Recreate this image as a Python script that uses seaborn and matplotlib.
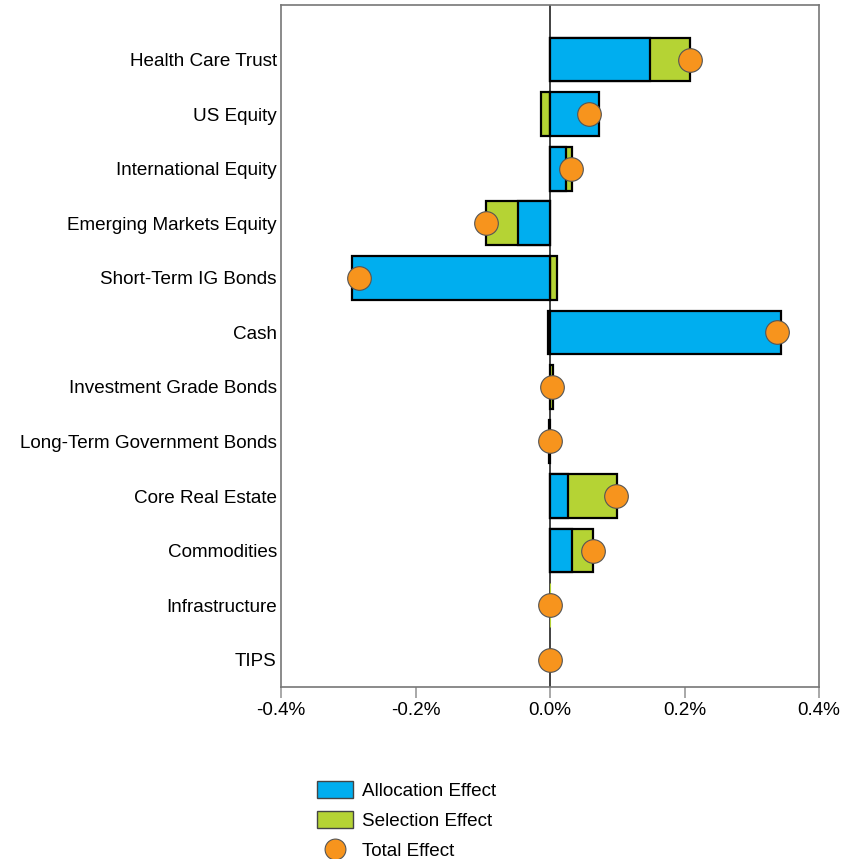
import numpy as np
import pandas as pd
import matplotlib
matplotlib.use('Agg')
import matplotlib.pyplot as plt
import seaborn as sns
from matplotlib.patches import Patch
from matplotlib.lines import Line2D

# attribution effects, in %
categories = ['Health Care Trust', 'US Equity', 'International Equity',
              'Emerging Markets Equity', 'Short-Term IG Bonds', 'Cash',
              'Investment Grade Bonds', 'Long-Term Government Bonds',
              'Core Real Estate', 'Commodities', 'Infrastructure', 'TIPS']
allocation = [0.149, 0.073, 0.024, -0.048, -0.294, 0.343, 0.0, 0.0, 0.027, 0.032, 0.0, 0.0]
selection = [0.059, -0.014, 0.008, -0.047, 0.011, -0.0035, 0.004, -0.0015, 0.073, 0.032, -0.0003, 0.0]
total = [0.208, 0.058, 0.031, -0.095, -0.284, 0.338, 0.0035, -0.0005, 0.098, 0.0635, -0.0005, 0.0]
xticks = [-0.4, -0.2, 0.0, 0.2, 0.4]

blue = '#00AEEF'
green = '#B5D334'
orange = '#F7941D'

df = pd.DataFrame({'cat': categories, 'alloc': allocation, 'sel': selection, 'total': total})
# where the selection segment ends when stacked on the same side as allocation
same_side = np.sign(df['sel']) == np.sign(df['alloc'])
df['sel_end'] = np.where(same_side, df['alloc'] + df['sel'], df['sel'])

plt.rcParams['font.family'] = ['Liberation Sans', 'DejaVu Sans']
fig = plt.figure(figsize=(8.6, 8.59), dpi=100)
ax = fig.add_axes([281 / 860, 1 - 687 / 859, 538 / 860, 682 / 859])

ax.axvline(0, color='#333333', lw=1.3, zorder=0.5)

# green drawn first to the stacked end, blue on top
sns.barplot(data=df, x='sel_end', y='cat', orient='h', color=green, width=0.8,
            edgecolor='black', linewidth=1.6, saturation=1, ax=ax, zorder=2)
sns.barplot(data=df, x='alloc', y='cat', orient='h', color=blue, width=0.8,
            edgecolor='black', linewidth=1.6, saturation=1, ax=ax, zorder=3)
# near-zero bars: no black outline, only a faint sliver
for p in ax.patches:
    if abs(p.get_width()) < 0.0008:
        if p.get_width() == 0:
            p.set_visible(False)
        else:
            p.set_edgecolor(p.get_facecolor())
            p.set_linewidth(0.8)
sns.scatterplot(data=df, x='total', y='cat', color=orange, s=290,
                edgecolor='#555555', linewidth=0.8, ax=ax, zorder=4)

ax.set_xlim(-0.4, 0.4)
ax.set_ylim(11.5, -1.0)
ax.set_xticks(xticks)
ax.set_xticklabels([f'{t:.1f}%' for t in xticks])
ax.set_xlabel('')
ax.set_ylabel('')
ax.tick_params(axis='y', length=0, pad=3, labelsize=13.6)
ax.tick_params(axis='x', length=8, width=1.2, color='#999999', pad=3, labelsize=13.6)
for s in ax.spines.values():
    s.set_color('#777777')
    s.set_linewidth(1.2)

handles = [Patch(facecolor=blue, edgecolor='#444444', lw=1),
           Patch(facecolor=green, edgecolor='#444444', lw=1),
           Line2D([], [], ls='', marker='o', markersize=15, markerfacecolor=orange,
                  markeredgecolor='#555555', markeredgewidth=0.8)]
fig.legend(handles, ['Allocation Effect', 'Selection Effect', 'Total Effect'],
           loc='upper left', bbox_to_anchor=(0.349, 0.111), frameon=False,
           fontsize=13.6, handlelength=1.9, handleheight=1.05, labelspacing=0.58,
           handletextpad=0.45)

fig.savefig('out.png', dpi=100)
